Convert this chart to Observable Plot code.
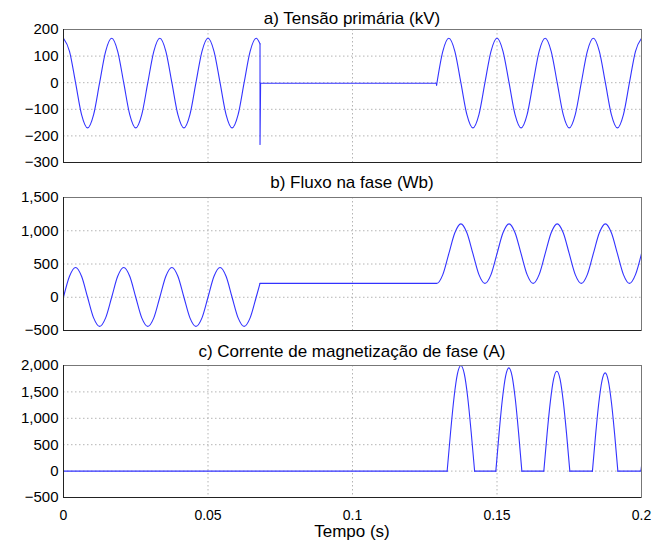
<!DOCTYPE html>
<html>
<head>
<meta charset="utf-8">
<script src="https://cdn.jsdelivr.net/npm/d3@7"></script>
<script src="https://cdn.jsdelivr.net/npm/@observablehq/plot@0.6"></script>
<style>
  html, body { margin: 0; padding: 0; background: #fff; }
  #chart { position: relative; width: 658px; height: 542px; font-family: "Liberation Sans", Arial, sans-serif; color: #000; }
  #chart svg { position: absolute; left: 0; overflow: visible; }
  .ttl { position: absolute; left: 63px; width: 578px; text-align: center; font-size: 17px; line-height: 17px; white-space: nowrap; }
  .xl { position: absolute; left: 63px; width: 578px; text-align: center; font-size: 17px; line-height: 15px; }
</style>
</head>
<body>
<div id="chart"></div>
<script>
// ---- tick labels / categories ----
const xTicks = [0, 0.05, 0.1, 0.15, 0.2];
const voltTicks = [-300, -200, -100, 0, 100, 200];
const fluxTicks = [-500, 0, 500, 1000, 1500];
const currTicks = [-500, 0, 500, 1000, 1500, 2000];
const titles = ["a) Tensão primária (kV)", "b) Fluxo na fase (Wb)", "c) Corrente de magnetização de fase (A)"];
const xTitle = "Tempo (s)";

// ---- a) primary voltage (kV): [time s, value] ----
const voltA = [[0,167],[0.00208,118],[0.00417,0],[0.00625,-120],[0.00833,-170],[0.01042,-120],[0.0125,0],[0.01458,118],
  [0.01667,167],[0.01875,118],[0.02083,0],[0.02292,-120],[0.025,-170],[0.02708,-120],[0.02917,0],[0.03125,118],
  [0.03333,167],[0.03542,118],[0.0375,0],[0.03958,-120],[0.04167,-170],[0.04375,-120],[0.04583,0],[0.04792,118],
  [0.05,167],[0.05208,118],[0.05417,0],[0.05625,-120],[0.05833,-170],[0.06042,-120],[0.0625,0],[0.06458,118],
  [0.06667,167],[0.068,146]];
const voltSpike = [[0.068,146],[0.068,-232],[0.0682,-2],[0.129,-2],[0.1291,-9]];
const voltC = [[0.1291,-9],[0.13125,118],[0.13333,167],[0.13542,118],[0.1375,0],[0.13958,-120],[0.14167,-170],[0.14375,-120],[0.14583,0],[0.14792,118],
  [0.15,167],[0.15208,118],[0.15417,0],[0.15625,-120],[0.15833,-170],[0.16042,-120],[0.1625,0],[0.16458,118],
  [0.16667,167],[0.16875,118],[0.17083,0],[0.17292,-120],[0.175,-170],[0.17708,-120],[0.17917,0],[0.18125,118],
  [0.18333,167],[0.18542,118],[0.1875,0],[0.18958,-120],[0.19167,-170],[0.19375,-120],[0.19583,0],[0.19792,118],[0.2,167]];

// ---- b) phase flux (Wb) ----
const fluxA = [[0,0],[0.00208,315],[0.00417,447],[0.00625,315],[0.00833,0],[0.01042,-310],[0.0125,-438],[0.01458,-310],
  [0.01667,0],[0.01875,315],[0.02083,447],[0.02292,315],[0.025,0],[0.02708,-310],[0.02917,-438],[0.03125,-310],
  [0.03333,0],[0.03542,315],[0.0375,447],[0.03958,315],[0.04167,0],[0.04375,-310],[0.04583,-438],[0.04792,-310],
  [0.05,0],[0.05208,315],[0.05417,447],[0.05625,315],[0.05833,0],[0.06042,-310],[0.0625,-438],[0.06458,-310],
  [0.06667,0],[0.068,208]];
const fluxB = [[0.068,208],[0.12917,208],[0.13125,340],[0.13333,655],[0.13542,970],[0.1375,1103],[0.13958,970],[0.14167,655],[0.14375,340],
  [0.14583,208],[0.14792,340],[0.15,655],[0.15208,970],[0.15417,1103],[0.15625,970],[0.15833,655],[0.16042,340],
  [0.1625,208],[0.16458,340],[0.16667,655],[0.16875,970],[0.17083,1103],[0.17292,970],[0.175,655],[0.17708,340],
  [0.17917,208],[0.18125,340],[0.18333,655],[0.18542,970],[0.1875,1103],[0.18958,970],[0.19167,655],[0.19375,340],
  [0.19583,208],[0.19792,340],[0.2,655]];

// ---- c) phase magnetizing current (A) ----
const currFlat1 = [[0,0],[0.13275,0]];
const currPulse1 = [[0.13275,0],[0.13394,740],[0.13512,1390],[0.13631,1840],[0.1375,2000],[0.13869,1840],[0.13988,1390],[0.14106,740],[0.14225,0]];
const currFlat2 = [[0.14225,0],[0.1496,0]];
const currPulse2 = [[0.1496,0],[0.15072,720],[0.15185,1355],[0.15298,1800],[0.1541,1955],[0.15522,1800],[0.15635,1355],[0.15748,720],[0.1586,0]];
const currFlat3 = [[0.1586,0],[0.1662,0]];
const currPulse3 = [[0.1662,0],[0.16732,700],[0.16845,1310],[0.16958,1740],[0.1707,1890],[0.17182,1740],[0.17295,1310],[0.17408,700],[0.1752,0]];
const currFlat4 = [[0.1752,0],[0.18302,0]];
const currPulse4 = [[0.18302,0],[0.18412,690],[0.18522,1290],[0.18632,1710],[0.18742,1860],[0.18852,1710],[0.18962,1290],[0.19072,690],[0.19182,0]];
const currEnd = [[0.19182,0],[0.1997,0],[0.2,90]];

const toRows = (segs) => segs.flatMap((s, i) => s.map(([t, v]) => ({t, v, seg: i})));
const fmtY = d3.format(",");
const lineColor = "#3333ff";
const gridStyle = {stroke: "#b4b4b4", strokeOpacity: 1, strokeDasharray: "1.5,2.5", strokeWidth: 1};

function panel({smooth, linear, yDomain, yTicks, top, height, mt, mb, xLabels}) {
  const marks = [
    Plot.gridX(xTicks, gridStyle),
    Plot.gridY(yTicks, gridStyle),
    Plot.axisY(yTicks, {tickSize: 0, tickPadding: 5, tickFormat: fmtY, label: null, fontSize: 15}),
    xLabels
      ? Plot.axisX(xTicks, {tickSize: 0, tickPadding: 13, tickFormat: d => String(d), label: null, fontSize: 14})
      : Plot.axisX([], {tickSize: 0, label: null}),
    Plot.line(toRows(smooth), {x: "t", y: "v", z: "seg", curve: "monotone-x", stroke: lineColor, strokeWidth: 1.1}),
  ];
  if (linear) marks.push(Plot.line(toRows(linear), {x: "t", y: "v", z: "seg", curve: "linear", stroke: lineColor, strokeWidth: 1.1}));
  marks.push(Plot.frame({stroke: "#777", strokeWidth: 1}));
  marks.push(Plot.ruleX([xTicks[0]], {stroke: "#222"}));
  marks.push(Plot.ruleY([yDomain[0]], {stroke: "#222"}));
  const svg = Plot.plot({
    width: 658, height,
    marginLeft: 63, marginRight: 17, marginTop: mt, marginBottom: mb,
    style: {fontFamily: "'Liberation Sans', Arial, sans-serif", fontSize: "14px", color: "#000", background: "transparent", overflow: "visible"},
    x: {domain: [0, 0.2], label: null},
    y: {domain: yDomain, label: null},
    marks
  });
  svg.style.top = top + "px";
  return svg;
}

const chart = document.getElementById("chart");
chart.appendChild(panel({smooth: [voltA, voltC], linear: [voltSpike], yDomain: [-300, 200], yTicks: voltTicks, top: 0, height: 175, mt: 29, mb: 13, xLabels: false}));
chart.appendChild(panel({smooth: [fluxA, fluxB], yDomain: [-500, 1500], yTicks: fluxTicks, top: 175, height: 165, mt: 22, mb: 10, xLabels: false}));
chart.appendChild(panel({smooth: [currFlat1, currPulse1, currFlat2, currPulse2, currFlat3, currPulse3, currFlat4, currPulse4, currEnd], yDomain: [-500, 2000], yTicks: currTicks, top: 340, height: 202, mt: 25, mb: 45, xLabels: true}));

const titleTops = [10, 174, 343];
titles.forEach((t, i) => {
  const d = document.createElement("div");
  d.className = "ttl";
  d.style.top = titleTops[i] + "px";
  d.textContent = t;
  chart.appendChild(d);
});
const xl = document.createElement("div");
xl.className = "xl";
xl.style.top = "524px";
xl.textContent = xTitle;
chart.appendChild(xl);
</script>
</body>
</html>
